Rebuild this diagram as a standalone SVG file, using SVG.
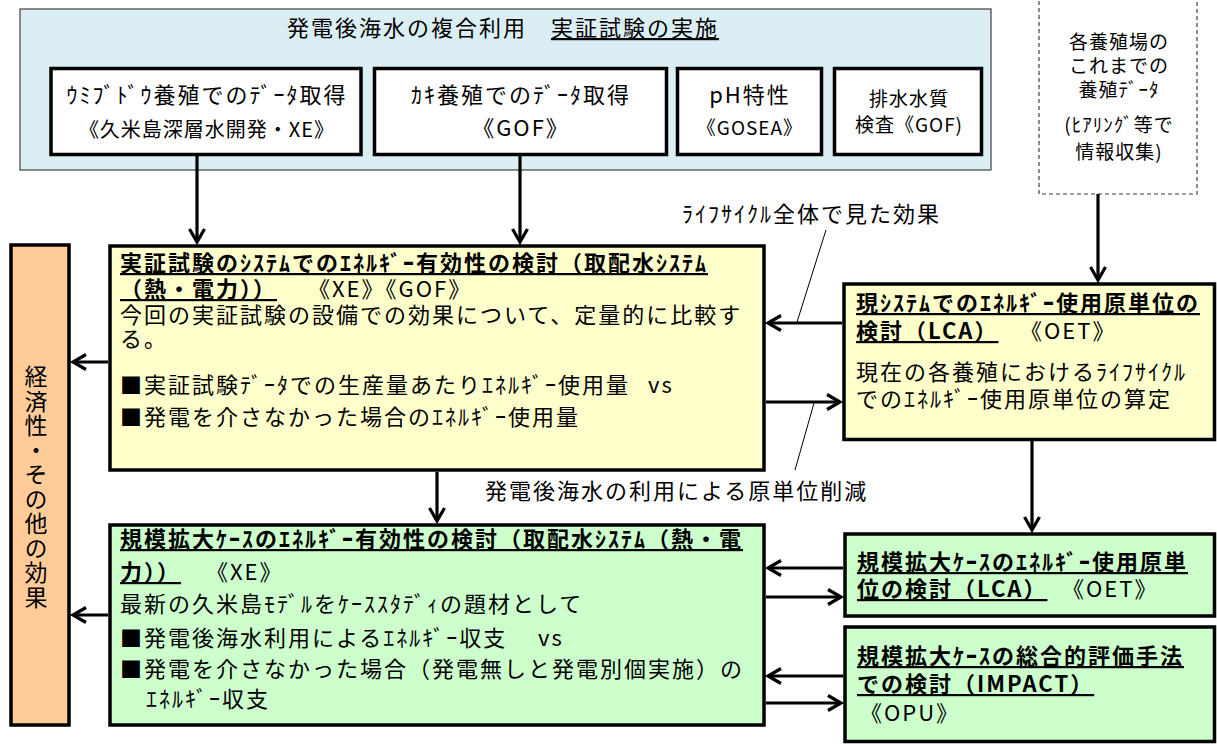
<svg xmlns="http://www.w3.org/2000/svg" width="1217" height="744" viewBox="0 0 1217 744">
<style>
text{font-family:"Noto Sans CJK JP","Noto Sans",sans-serif;fill:#000;}
.f24{font-size:22px;letter-spacing:2px;}
.f21{font-size:20px;letter-spacing:1px;}
.f20{font-size:19px;letter-spacing:1px;}
.b{font-weight:bold;}
.u{text-decoration:underline;}
.box{stroke:#000;stroke-width:3.5;}
.wbox{fill:#fff;stroke:#000;stroke-width:3.5;}
.yel{fill:#FFFFCC;}
.grn{fill:#CCFFCC;}
.org{fill:#FFCC99;}
.vert{font-size:23px;writing-mode:vertical-rl;letter-spacing:1.5px;}
.conn{stroke:#000;stroke-width:3.2;fill:none;marker-end:url(#ah);}
.lead{stroke:#000;stroke-width:1;fill:none;}
</style>
<defs>
<marker id="ah" markerUnits="userSpaceOnUse" markerWidth="20" markerHeight="20" refX="15" refY="9" orient="auto">
<path d="M2,1.5 L15,9 L2,16.5" fill="none" stroke="#000" stroke-width="3.2"/>
</marker>
</defs>
<rect width="1217" height="744" fill="#fff"/>

<g id="top-group">
<rect x="20" y="9" width="971" height="161" fill="#DAEEF3" stroke="#404040" stroke-width="1.2"/>
<text class="f24" x="287" y="36">発電後海水の複合利用　<tspan class="u">実証試験の実施</tspan></text>
</g>

<g id="box-umibudou">
<rect class="wbox" x="51" y="68.5" width="310" height="86"/>
<text class="f24" x="207" y="103" text-anchor="middle">ｳﾐﾌﾞﾄﾞｳ養殖でのﾃﾞｰﾀ取得</text>
<text class="f21" x="207" y="137" text-anchor="middle">《久米島深層水開発・XE》</text>
</g>

<g id="box-kaki">
<rect class="wbox" x="374.5" y="68.5" width="292" height="86"/>
<text class="f24" x="521" y="103" text-anchor="middle">ｶｷ養殖でのﾃﾞｰﾀ取得</text>
<text class="f24" x="521" y="136" text-anchor="middle">《GOF》</text>
</g>

<g id="box-ph">
<rect class="wbox" x="677.5" y="68.5" width="144" height="86"/>
<text class="f24" x="750" y="103" text-anchor="middle">pH特性</text>
<text class="f20" x="750" y="135" text-anchor="middle">《GOSEA》</text>
</g>

<g id="box-haisui">
<rect class="wbox" x="834.5" y="68.5" width="147" height="86"/>
<text class="f20" x="909" y="106" text-anchor="middle">排水水質</text>
<text class="f20" x="909" y="132" text-anchor="middle">検査《GOF)</text>
</g>

<g id="box-data">
<rect x="1039" y="-1" width="158" height="195" fill="#fff" stroke="#404040" stroke-width="1.2" stroke-dasharray="4,3"/>
<text class="f20" x="1119" y="49" text-anchor="middle">各養殖場の</text>
<text class="f20" x="1119" y="73" text-anchor="middle">これまでの</text>
<text class="f20" x="1119" y="97" text-anchor="middle">養殖ﾃﾞｰﾀ</text>
<text class="f20" x="1119" y="132" text-anchor="middle">(ﾋｱﾘﾝｸﾞ等で</text>
<text class="f20" x="1119" y="159" text-anchor="middle">情報収集)</text>
</g>

<g id="box-keizai">
<rect class="box org" x="11" y="245" width="58" height="480"/>
<text class="vert" x="36" y="365">経済性・その他の効果</text>
</g>

<g id="box-jissho">
<rect class="box yel" x="110" y="246" width="654" height="224"/>
<text class="f24 b u" x="120" y="271">実証試験のｼｽﾃﾑでのｴﾈﾙｷﾞｰ有効性の検討（取配水ｼｽﾃﾑ</text>
<text class="f24" x="120" y="297"><tspan class="b u">（熱・電力））</tspan><tspan x="308">《XE》《GOF》</tspan></text>
<text class="f24" x="120" y="323">今回の実証試験の設備での効果について、定量的に比較す</text>
<text class="f24" x="120" y="347">る。</text>
<text class="f24" x="120" y="393">■実証試験ﾃﾞｰﾀでの生産量あたりｴﾈﾙｷﾞｰ使用量<tspan x="648">vs</tspan></text>
<text class="f24" x="120" y="425">■発電を介さなかった場合のｴﾈﾙｷﾞｰ使用量</text>
</g>

<g id="box-lca-current">
<rect class="box yel" x="844" y="284" width="370.5" height="155.5"/>
<text class="f24 b u" x="856" y="311">現ｼｽﾃﾑでのｴﾈﾙｷﾞｰ使用原単位の</text>
<text class="f24" x="856" y="339"><tspan class="b u">検討（LCA）</tspan><tspan x="1020">《OET》</tspan></text>
<text class="f24" x="856" y="380">現在の各養殖におけるﾗｲﾌｻｲｸﾙ</text>
<text class="f24" x="856" y="407">でのｴﾈﾙｷﾞｰ使用原単位の算定</text>
</g>

<g id="box-kibo">
<rect class="box grn" x="110" y="525" width="654" height="200"/>
<text class="f24 b u" x="120" y="547">規模拡大ｹｰｽのｴﾈﾙｷﾞｰ有効性の検討（取配水ｼｽﾃﾑ（熱・電</text>
<text class="f24" x="120" y="580"><tspan class="b u">力））</tspan><tspan x="206">《XE》</tspan></text>
<text class="f24" x="120" y="612">最新の久米島ﾓﾃﾞﾙをｹｰｽｽﾀﾃﾞｨの題材として</text>
<text class="f24" x="120" y="646">■発電後海水利用によるｴﾈﾙｷﾞｰ収支<tspan x="538">vs</tspan></text>
<text class="f24" x="120" y="677">■発電を介さなかった場合（発電無しと発電別個実施）の</text>
<text class="f24" x="146" y="707">ｴﾈﾙｷﾞｰ収支</text>
</g>

<g id="box-lca-kibo">
<rect class="box grn" x="845" y="534" width="369.5" height="82"/>
<text class="f24 b u" x="857" y="570">規模拡大ｹｰｽのｴﾈﾙｷﾞｰ使用原単</text>
<text class="f24" x="857" y="597"><tspan class="b u">位の検討（LCA）</tspan><tspan x="1062">《OET》</tspan></text>
</g>

<g id="box-impact">
<rect class="box grn" x="845" y="627" width="369.5" height="114.5"/>
<text class="f24 b u" x="857" y="664">規模拡大ｹｰｽの総合的評価手法</text>
<text class="f24 b u" x="857" y="692">での検討（IMPACT）</text>
<text class="f24" x="860" y="721">《OPU》</text>
</g>

<g id="labels">
<text class="f24" x="682" y="222">ﾗｲﾌｻｲｸﾙ全体で見た効果</text>
<text class="f24" x="485" y="499">発電後海水の利用による原単位削減</text>
</g>

<g id="connectors">
<line class="conn" x1="197" y1="156" x2="197" y2="242"/>
<line class="conn" x1="520" y1="156" x2="520" y2="242"/>
<line class="conn" x1="1098" y1="194" x2="1098" y2="280"/>
<line class="conn" x1="842" y1="323" x2="768" y2="323"/>
<line class="conn" x1="766" y1="402" x2="840" y2="402"/>
<line class="conn" x1="108" y1="362" x2="73" y2="362"/>
<line class="conn" x1="437" y1="472" x2="437" y2="521"/>
<line class="conn" x1="1032" y1="441" x2="1032" y2="530"/>
<line class="conn" x1="843" y1="568" x2="768" y2="568"/>
<line class="conn" x1="766" y1="597" x2="841" y2="597"/>
<line class="conn" x1="843" y1="676" x2="768" y2="676"/>
<line class="conn" x1="766" y1="703" x2="841" y2="703"/>
<line class="conn" x1="108" y1="615" x2="73" y2="615"/>
<line class="lead" x1="826" y1="230" x2="797" y2="322"/>
<line class="lead" x1="814" y1="403" x2="795" y2="470"/>
</g>
</svg>
